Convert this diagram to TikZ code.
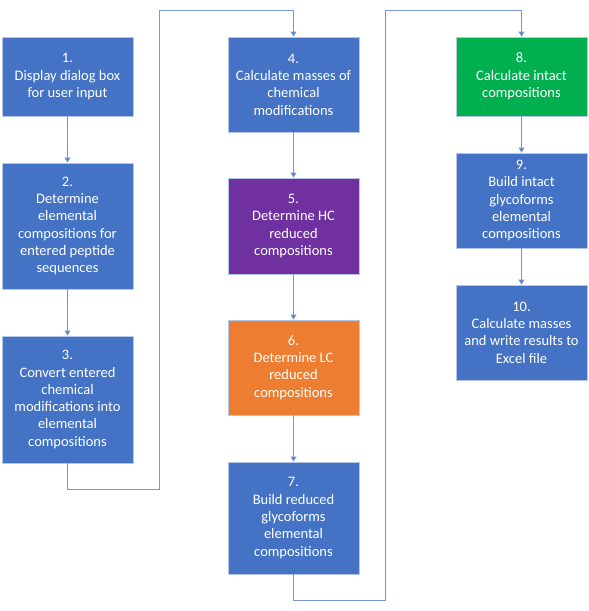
\documentclass[tikz,border=0pt]{standalone}
\usepackage{fontspec}
\setmainfont{Carlito}
\usetikzlibrary{arrows.meta}
\definecolor{stepblue}{HTML}{4472C4}
\definecolor{steppurple}{HTML}{7030A0}
\definecolor{steporange}{HTML}{ED7D31}
\definecolor{stepgreen}{HTML}{00B050}
\definecolor{rim}{HTML}{B4C7E7}
\definecolor{wire}{HTML}{7896D6}
\begin{document}
\begin{tikzpicture}[x=1pt,y=-1pt,
  stepbox/.style={draw=rim,line width=0.8pt,fill=stepblue,text=white,align=center,
    minimum width=131pt,font=\fontsize{14.5}{17.3}\selectfont,inner sep=0pt},
  arr/.style={draw=wire,line width=0.9pt,-{Triangle[width=6pt,length=5pt,fill=stepblue]}}]
\useasboundingbox (0,0) rectangle (589,611);
\node[stepbox,minimum height=79pt] (b1) at (67.5,76.5) {1.\\Display dialog box\\for user input};
\node[stepbox,minimum height=126pt] (b2) at (67.5,226) {2.\\Determine\\elemental\\compositions for\\entered peptide\\sequences};
\node[stepbox,minimum height=127pt] (b3) at (67.5,399.5) {3.\\Convert entered\\chemical\\modifications into\\elemental\\compositions};
\node[stepbox,minimum height=95pt] (b4) at (293.5,84.5) {4.\\Calculate masses of\\chemical\\modifications};
\node[stepbox,minimum height=96pt,fill=steppurple] (b5) at (293.5,226) {5.\\Determine HC\\reduced\\compositions};
\node[stepbox,minimum height=95pt,fill=steporange] (b6) at (293.5,367.5) {6.\\Determine LC\\reduced\\compositions};
\node[stepbox,minimum height=112pt] (b7) at (293.5,518) {7.\\Build reduced\\glycoforms\\elemental\\compositions};
\node[stepbox,minimum height=79pt,fill=stepgreen] (b8) at (521.5,76.5) {8.\\Calculate intact\\compositions};
\node[stepbox,minimum height=95pt] (b9) at (521.5,200.5) {9.\\Build intact\\glycoforms\\elemental\\compositions};
\node[stepbox,minimum height=95pt] (b10) at (521.5,332.5) {10.\\Calculate masses\\and write results to\\Excel file};
\coordinate (lo1) at (159,489);
\coordinate (hi1) at (159,10.5);
\coordinate (lo2) at (385,600);
\coordinate (hi2) at (385,10.5);
\foreach \a/\b in {b1/b2,b2/b3,b4/b5,b5/b6,b6/b7,b8/b9,b9/b10}
  \draw[arr] (\a) -- (\b);
\draw[arr] (b3.south) |- (lo1) -- (hi1) -| (b4.north);
\draw[arr] (b7.south) |- (lo2) -- (hi2) -| (b8.north);
\end{tikzpicture}
\end{document}
